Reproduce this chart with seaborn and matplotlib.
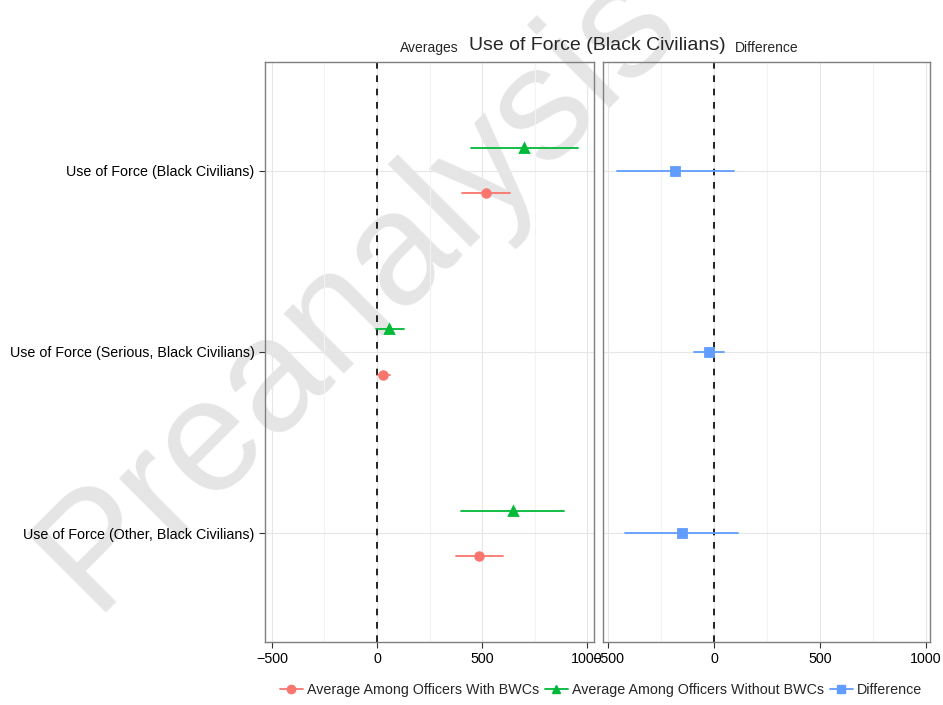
import pandas as pd
import seaborn as sns
import matplotlib.pyplot as plt
import numpy as np
from matplotlib.lines import Line2D
from matplotlib.ticker import MultipleLocator

# 결과 변수 (위에서 아래 순서)
outcomes = ["Use of Force (Black Civilians)",
            "Use of Force (Serious, Black Civilians)",
            "Use of Force (Other, Black Civilians)"]

# 평균과 신뢰구간
with_mean = [519, 29, 486]
with_lo = [405, 5, 376]
with_hi = [633, 62, 599]

without_mean = [700, 57, 646]
without_lo = [448, -3, 400]
without_hi = [957, 127, 890]

diff_mean = [-184, -25, -151]
diff_lo = [-458, -94, -420]
diff_hi = [94, 47, 112]

groups = ["Average Among Officers With BWCs", "Average Among Officers Without BWCs", "Difference"]
colors = ["#F8766D", "#00BA38", "#619CFF"]
markers = ["o", "^", "s"]


def long_rows(group, lo, mean, hi):
    rows = []
    for o, a, m, b in zip(outcomes, lo, mean, hi):
        for v in (a, m, b):
            rows.append({"outcome": o, "group": group, "value": v})
    return rows


df_avg = pd.DataFrame(long_rows(groups[1], without_lo, without_mean, without_hi)
                      + long_rows(groups[0], with_lo, with_mean, with_hi))
df_diff = pd.DataFrame(long_rows(groups[2], diff_lo, diff_mean, diff_hi))

sns.set_style("white")
plt.rcParams['font.family'] = ['Liberation Sans', 'DejaVu Sans']

fig = plt.figure(figsize=(9.43, 7.05), dpi=100)
ax1 = fig.add_axes([265 / 943, 1 - 642 / 705, 329 / 943, 580 / 705])
ax2 = fig.add_axes([603 / 943, 1 - 642 / 705, 327 / 943, 580 / 705])

# 워터마크
fig.text(358 / 943, 1 - 288 / 705, "Preanalysis", fontsize=116, rotation=45,
         color="#e5e5e5", ha="center", va="center", zorder=-1)

ci = lambda x: (x.min(), x.max())

sns.pointplot(data=df_avg, x="value", y="outcome", hue="group", order=outcomes,
              hue_order=[groups[1], groups[0]], palette=[colors[1], colors[0]],
              markers=[markers[1], markers[0]], linestyles="none",
              estimator=np.median, errorbar=ci, dodge=0.25,
              markersize=5.5, err_kws={"linewidth": 1.3}, legend=False, ax=ax1)

sns.pointplot(data=df_diff, x="value", y="outcome", order=outcomes,
              color=colors[2], markers=markers[2], linestyles="none",
              estimator=np.median, errorbar=ci,
              markersize=5.5, err_kws={"linewidth": 1.3}, ax=ax2)

for ax, lim, name in [(ax1, (-533, 1033), "Averages"), (ax2, (-524, 1019), "Difference")]:
    ax.patch.set_alpha(0)
    ax.set_xlim(*lim)
    ax.set_ylim(2.6, -0.6)
    ax.xaxis.set_major_locator(MultipleLocator(500))
    ax.xaxis.set_minor_locator(MultipleLocator(250))
    ax.grid(True, which="major", color="#e6e6e6", linewidth=0.8)
    ax.grid(True, which="minor", axis="x", color="#f3f3f3", linewidth=0.8)
    ax.set_axisbelow(True)
    ax.axvline(0, color="black", linestyle=(0, (4, 4)), linewidth=1.2, zorder=1)
    for s in ax.spines.values():
        s.set_color("#7f7f7f")
        s.set_linewidth(1.0)
    ax.set_xlabel("")
    ax.set_ylabel("")
    ax.tick_params(axis="both", length=4, width=0.8, color="#333333",
                   labelsize=10.3, labelcolor="black", bottom=True, left=True)
    ax.set_xticks([-500, 0, 500, 1000])
    ax.set_xticklabels(["\u2212500", "0", "500", "1000"])
    ax.set_title(name, fontsize=10, pad=7)

ax2.set_yticks(range(len(outcomes)))
ax2.set_yticklabels([])
ax2.tick_params(axis="y", left=False)

fig.text(597 / 943, 1 - 46 / 705, "Use of Force (Black Civilians)",
         fontsize=14, ha="center", va="center")

handles = [Line2D([], [], color=c, marker=m, markersize=6, linewidth=1.3)
           for c, m in zip(colors, markers)]
fig.legend(handles, groups, loc="center", bbox_to_anchor=(601 / 943, 1 - 690 / 705),
           ncol=3, frameon=False, fontsize=10.3, handlelength=1.6,
           handletextpad=0.3, columnspacing=0.4)

fig.savefig("out.png", dpi=100)
